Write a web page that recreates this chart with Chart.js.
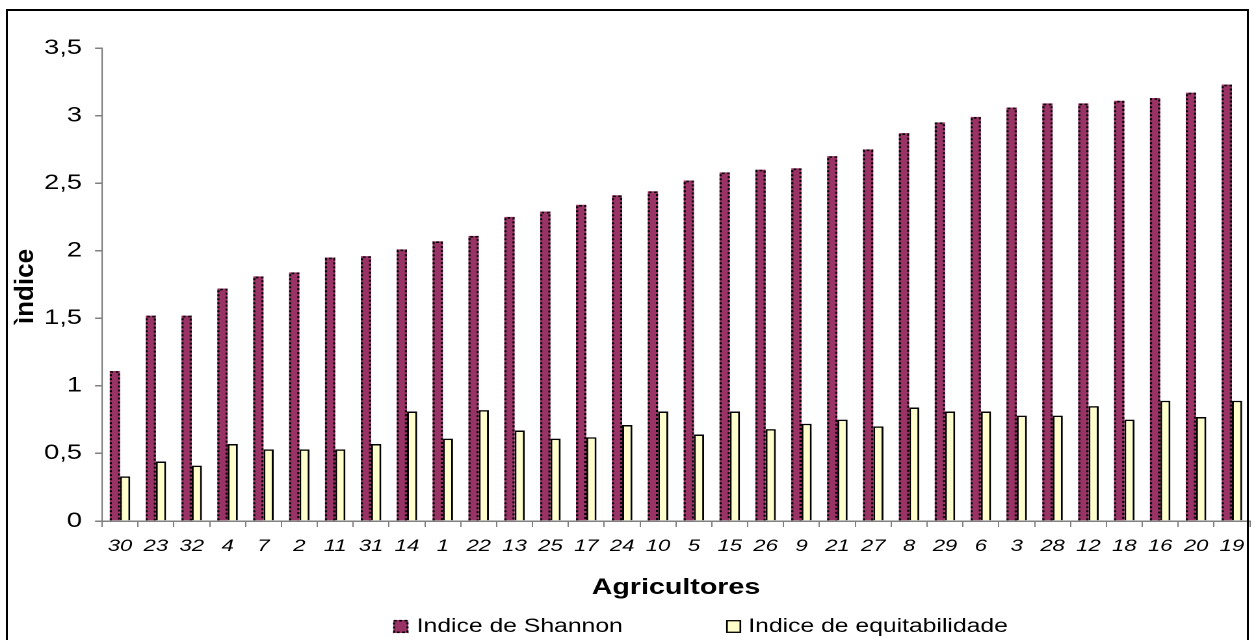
<!DOCTYPE html>
<html>
<head>
<meta charset="utf-8">
<script src="https://cdn.jsdelivr.net/npm/chart.js@4"></script>
<style>
  html, body { margin: 0; padding: 0; background: #fff; overflow: hidden; }
  #wrap { position: relative; width: 1256px; height: 640px; }
  /* o original é uma imagem esticada na horizontal */
  #chart { position: absolute; left: 0; top: 0; transform: scaleX(1.3002); transform-origin: 0 0; }
  #frame { position: absolute; left: 6px; top: 9px; width: 1243px; height: 700px; border: 2px solid #000; box-sizing: border-box; pointer-events: none; }
</style>
</head>
<body>
<div id="wrap">
  <canvas id="chart" width="966" height="640"></canvas>
  <div id="frame"></div>
</div>
<script>
// Agricultores (ordem do gráfico)
const agricultores = ['30','23','32','4','7','2','11','31','14','1','22','13','25','17','24','10',
                      '5','15','26','9','21','27','8','29','6','3','28','12','18','16','20','19'];
const shannon = [1.11, 1.52, 1.52, 1.72, 1.81, 1.84, 1.95, 1.96, 2.01, 2.07, 2.11, 2.25, 2.29, 2.34, 2.41, 2.44,
                 2.52, 2.58, 2.60, 2.61, 2.70, 2.75, 2.87, 2.95, 2.99, 3.06, 3.09, 3.09, 3.11, 3.13, 3.17, 3.23];
const equitabilidade = [0.33, 0.44, 0.41, 0.57, 0.53, 0.53, 0.53, 0.57, 0.81, 0.61, 0.82, 0.67, 0.61, 0.62, 0.71, 0.81,
                        0.64, 0.81, 0.68, 0.72, 0.75, 0.70, 0.84, 0.81, 0.81, 0.78, 0.78, 0.85, 0.75, 0.89, 0.77, 0.89];
const yMin = 0, yMax = 3.5, yStep = 0.5;

const FONT = "'Liberation Sans', Arial, sans-serif";
const ESTICA = 1.3002;
const corShannon = '#993366';
const corEquit = '#FFFFCC';

// Borda pontilhada nas barras de Shannon
const dottedBars = {
    id: 'dottedBars',
    afterDatasetsDraw(chart) {
        const ctx = chart.ctx;
        const meta = chart.getDatasetMeta(0);
        ctx.save();
        ctx.strokeStyle = '#000';
        ctx.lineWidth = 1.6;
        ctx.setLineDash([2, 2]);
        meta.data.forEach(bar => {
            const left = bar.x - bar.width / 2 + 0.8;
            const right = bar.x + bar.width / 2 - 0.8;
            ctx.beginPath();
            ctx.moveTo(left, bar.base);
            ctx.lineTo(left, bar.y + 1);
            ctx.lineTo(right, bar.y + 1);
            ctx.lineTo(right, bar.base);
            ctx.stroke();
        });
        ctx.restore();
    }
};

// Título do eixo Y sem o esticamento horizontal
const tituloY = {
    id: 'tituloY',
    afterDraw(chart) {
        const ctx = chart.ctx;
        const area = chart.chartArea;
        ctx.save();
        ctx.translate(chart.scales.y.left + 16, (area.top + area.bottom) / 2 + 2);
        ctx.scale(1 / ESTICA, 1);
        ctx.rotate(-Math.PI / 2);
        ctx.fillStyle = '#000';
        ctx.font = 'bold 26px ' + FONT;
        ctx.textAlign = 'center';
        ctx.textBaseline = 'middle';
        ctx.fillText('ìndice', 0, 0);
        ctx.restore();
    }
};

// Legenda desenhada à mão (espaçamento largo entre itens)
const legenda = {
    id: 'legenda',
    afterDraw(chart) {
        const ctx = chart.ctx;
        const itens = [
            { ds: chart.data.datasets[0], box: 302.5, text: 320.5, dotted: true },
            { ds: chart.data.datasets[1], box: 558.5, text: 575.5, dotted: false }
        ];
        const y = 620;
        ctx.save();
        itens.forEach(it => {
            ctx.fillStyle = it.ds.backgroundColor;
            ctx.fillRect(it.box, y, 11.5, 13);
            ctx.strokeStyle = '#000';
            ctx.lineWidth = it.dotted ? 1.6 : 1.3;
            ctx.setLineDash(it.dotted ? [2, 2] : []);
            ctx.strokeRect(it.box + 0.6, y + 0.7, 10.3, 11.6);
            ctx.setLineDash([]);
            ctx.fillStyle = '#000';
            ctx.font = '19px ' + FONT;
            ctx.textBaseline = 'middle';
            ctx.textAlign = 'left';
            ctx.fillText(it.ds.label, it.text, y + 7);
        });
        ctx.restore();
    }
};

const ctx = document.getElementById('chart').getContext('2d');
new Chart(ctx, {
    type: 'bar',
    data: {
        labels: agricultores,
        datasets: [{
            label: 'Indice de Shannon',
            data: shannon,
            backgroundColor: corShannon,
            borderWidth: 0,
            categoryPercentage: 0.57,
            barPercentage: 1
        }, {
            label: 'Indice de equitabilidade',
            data: equitabilidade,
            backgroundColor: corEquit,
            borderColor: '#000',
            borderWidth: 1.5,
            borderSkipped: 'bottom',
            categoryPercentage: 0.57,
            barPercentage: 1
        }]
    },
    options: {
        responsive: false,
        animation: false,
        devicePixelRatio: 2,
        layout: { padding: { left: 4, top: 48, right: 4, bottom: 39 } },
        plugins: {
            legend: { display: false },
            tooltip: { enabled: false }
        },
        scales: {
            x: {
                grid: { display: true, drawOnChartArea: false, drawTicks: true, tickLength: 6, color: '#808080', lineWidth: 1, offset: true },
                border: { display: true, color: '#808080', width: 1.5 },
                ticks: {
                    color: '#000',
                    padding: 9,
                    maxRotation: 0,
                    autoSkip: false,
                    font: { family: FONT, size: 17, style: 'italic' }
                },
                title: {
                    display: true,
                    text: 'Agricultores',
                    color: '#000',
                    padding: { top: 4, bottom: 0 },
                    font: { family: FONT, size: 22, weight: 'bold' }
                },
                afterFit(scale) { scale.height = 80; }
            },
            y: {
                min: yMin,
                max: yMax,
                grid: { display: true, drawOnChartArea: false, drawTicks: true, tickLength: 5.4, color: '#808080', lineWidth: 1.5 },
                border: { display: true, color: '#808080', width: 1.1 },
                ticks: {
                    stepSize: yStep,
                    color: '#000',
                    padding: 10,
                    font: { family: FONT, size: 21 },
                    callback: v => String(v).replace('.', ',')
                },
                title: { display: false },
                afterFit(scale) { scale.width = 74.5; }
            }
        }
    },
    plugins: [dottedBars, tituloY, legenda]
});
</script>
</body>
</html>
